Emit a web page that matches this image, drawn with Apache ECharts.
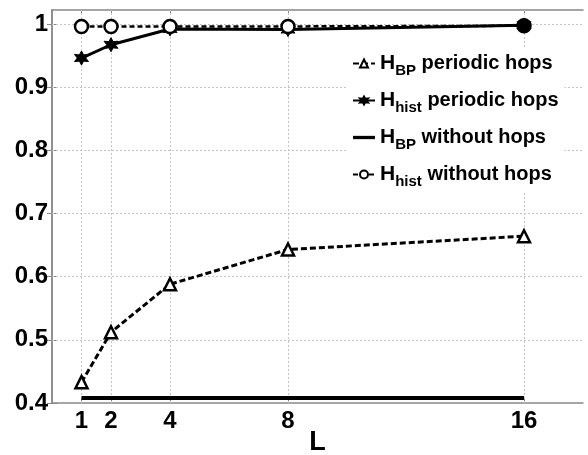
<!DOCTYPE html>
<html>
<head>
<meta charset="utf-8">
<script src="https://cdn.jsdelivr.net/npm/echarts@6/dist/echarts.min.js"></script>
<style>
  html, body { margin: 0; padding: 0; background: #fff; }
  #chart { width: 588px; height: 455px; }
</style>
</head>
<body>
<div id="chart"></div>
<script>
var L = [1, 2, 4, 8, 16];
var bpHops = [0.433, 0.512, 0.588, 0.643, 0.664];
var histHops = [0.946, 0.967, 0.992, 0.991, 0.998];
var bpNoHops = [0.408, 0.408, 0.408, 0.408, 0.408];
var histNoHops = [0.996, 0.996, 0.996, 0.996, 0.997];
var yTicks = [0.4, 0.5, 0.6, 0.7, 0.8, 0.9, 1];

var labels = {
  bpHops: '{h|H}{s|BP}{t| periodic hops}',
  histHops: '{h|H}{s|hist}{t| periodic hops}',
  bpNoHops: '{h|H}{s|BP}{t| without hops}',
  histNoHops: '{h|H}{s|hist}{t| without hops}'
};

function pairs(ys) {
  return L.map(function (x, i) { return [x, ys[i]]; });
}

var star = 'path://M0,-10 L2.6,-4.5 L8.7,-5 L5.2,0 L8.7,5 L2.6,4.5 L0,10 L-2.6,4.5 L-8.7,5 L-5.2,0 L-8.7,-5 L-2.6,-4.5 Z';
var font = 'Liberation Sans';

var chart = echarts.init(document.getElementById('chart'));
var frame = { show: true, lineStyle: { color: '#888', width: 1.5 } };
var tick = { show: true, inside: true, length: 5, lineStyle: { color: '#888' } };

// the last open circle sits on the star, the picture shows it filled
var histNoData = pairs(histNoHops);
histNoData[histNoData.length - 1] = { value: histNoData[histNoData.length - 1], itemStyle: { color: '#000' } };

chart.setOption({
  animation: false,
  backgroundColor: '#fff',
  grid: { left: 52, right: 5, top: 10, bottom: 52, outerBoundsMode: 'none', containLabel: false },
  legend: {
    data: [
      { name: 'bpHops' },
      { name: 'histHops' },
      { name: 'bpNoHops', icon: 'path://M0,0 L20,0 L20,3 L0,3 Z', itemStyle: { color: '#000' } },
      { name: 'histNoHops' }
    ],
    z: 20,
    orient: 'vertical',
    left: 346,
    top: 49,
    itemGap: 12,
    itemWidth: 22,
    itemHeight: 10,
    backgroundColor: '#fff',
    padding: [4, 6],
    formatter: function (n) { return labels[n]; },
    textStyle: {
      rich: {
        h: { fontFamily: font, fontWeight: 'bold', fontSize: 21, color: '#000', lineHeight: 24 },
        s: { fontFamily: font, fontWeight: 'bold', fontSize: 15, color: '#000', verticalAlign: 'bottom', padding: [14, 0, 0, 0] },
        t: { fontFamily: font, fontWeight: 'bold', fontSize: 20, color: '#000' }
      }
    }
  },
  xAxis: [{
    type: 'value',
    min: 0,
    max: 18,
    name: 'L',
    nameLocation: 'middle',
    nameGap: 26,
    nameMoveOverlap: false,
    nameTextStyle: { fontFamily: font, fontWeight: 'bold', fontSize: 27, color: '#000', verticalAlign: 'top', lineHeight: 27 },
    axisLine: frame,
    axisTick: Object.assign({ customValues: L }, tick),
    axisLabel: { customValues: L, margin: 6, fontFamily: font, fontWeight: 'bold', fontSize: 24, color: '#000' },
    splitLine: { show: false }
  }, {
    type: 'value',
    position: 'top',
    min: 0,
    max: 18,
    axisLine: frame,
    axisTick: Object.assign({ customValues: L }, tick),
    axisLabel: { show: false },
    splitLine: { show: false }
  }],
  yAxis: [{
    type: 'value',
    min: 0.4,
    max: 1.022,
    interval: 0.1,
    axisLine: frame,
    axisTick: Object.assign({ customValues: yTicks }, tick),
    axisLabel: {
      customValues: yTicks,
      margin: 4,
      fontFamily: font, fontWeight: 'bold', fontSize: 24, color: '#000',
      formatter: function (v) { return v === 1 ? '1' : v.toFixed(1); }
    },
    splitLine: { show: false }
  }, {
    type: 'value',
    position: 'right',
    min: 0.4,
    max: 1.022,
    interval: 0.1,
    axisLine: frame,
    axisTick: Object.assign({ customValues: yTicks }, tick),
    axisLabel: { show: false },
    splitLine: { show: false }
  }],
  series: [
    {
      name: 'grid', type: 'line', data: [], silent: true, z: 1,
      markLine: {
        silent: true, symbol: 'none', label: { show: false }, z: 1,
        lineStyle: { color: '#c4c4c4', type: [2, 2], width: 1 },
        data: L.map(function (x) { return { xAxis: x }; })
          .concat(yTicks.slice(1).map(function (y) { return { yAxis: y }; }))
      }
    },
    {
      name: 'bpHops', type: 'line', data: pairs(bpHops),
      symbol: 'triangle', symbolSize: 12,
      itemStyle: { color: '#fff', borderColor: '#000', borderWidth: 2.5 },
      lineStyle: { color: '#000', width: 3, type: [6, 3] }
    },
    {
      name: 'histHops', type: 'line', data: pairs(histHops),
      symbol: star, symbolSize: 14,
      itemStyle: { color: '#000', borderColor: '#000', borderWidth: 1 },
      lineStyle: { color: '#000', width: 3 }
    },
    {
      name: 'histNoHops', type: 'line', data: histNoData,
      symbol: 'circle', symbolSize: 13,
      itemStyle: { color: '#fff', borderColor: '#000', borderWidth: 2.5 },
      lineStyle: { color: '#000', width: 2.5, type: [5, 3] }
    },
    {
      name: 'bpNoHops', type: 'line', data: pairs(bpNoHops),
      symbol: 'none',
      itemStyle: { color: '#000' },
      lineStyle: { color: '#000', width: 4 }
    }
  ]
});
</script>
</body>
</html>
